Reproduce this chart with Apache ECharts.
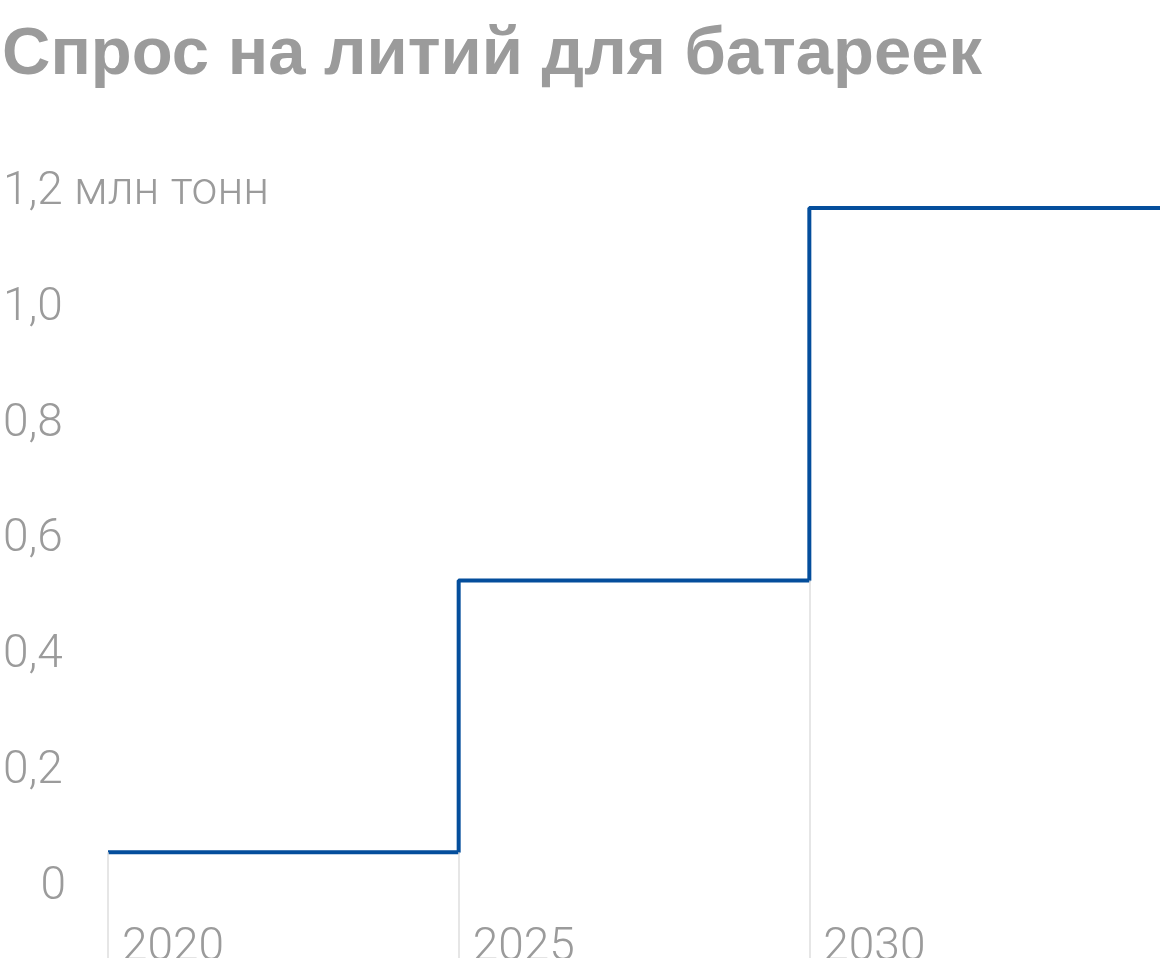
<!DOCTYPE html>
<html>
<head>
<meta charset="utf-8">
<script src="https://cdn.jsdelivr.net/npm/echarts@6/dist/echarts.min.js"></script>
<style>
    html, body { margin: 0; padding: 0; background: #fff; }
    #chart { width: 1160px; height: 958px; }
</style>
</head>
<body>
<div id="chart"></div>
<script>
var years = [2020, 2025, 2030, 2035],
    demand = [0.061, 0.53, 1.173, 1.173], // млн тонн
    yearLabels = [2020, 2025, 2030],
    unit = 'млн тонн';

var textGray = '#9b9b9b',
    lineBlue = '#044e9c',
    gridGray = '#dedede';

// вертикальные линии от ступеньки вниз
var dropLines = yearLabels.map(function(y, i) {
    var level = demand[Math.max(i - 1, 0)];
    return [{ coord: [y, level] }, { coord: [y, -0.2] }];
});

var myChart = echarts.init(document.getElementById('chart'));

var option = {
    animation: false,
    textStyle: { fontFamily: 'Roboto' },
    title: {
        text: 'Спрос на литий для батареек',
        left: -3,
        top: 17,
        textStyle: {
            fontFamily: 'Liberation Sans',
            fontSize: 67,
            fontWeight: 'bold',
            color: textGray
        }
    },
    grid: {
        left: 108,
        right: 0,
        top: 192.4,
        bottom: -45.3,
        outerBoundsMode: 'none',
        containLabel: false
    },
    xAxis: {
        type: 'value',
        min: 2020,
        max: 2035,
        interval: 5,
        position: 'bottom',
        offset: -118.8,
        axisLine: { show: false, onZero: false },
        axisTick: { show: false },
        splitLine: { show: false },
        axisLabel: {
            margin: 41,
            align: 'left',
            padding: [0, 0, 0, 14],
            fontSize: 46,
            fontWeight: 300,
            color: textGray,
            formatter: function(v) {
                return yearLabels.indexOf(v) > -1 ? String(v) : '';
            }
        }
    },
    yAxis: {
        type: 'value',
        min: -0.2,
        max: 1.2,
        interval: 0.2,
        axisLine: { show: false },
        axisTick: { show: false },
        splitLine: { show: false },
        axisLabel: {
            margin: 105,
            align: 'left',
            fontSize: 46,
            fontWeight: 300,
            color: textGray,
            formatter: function(v) {
                if (v < 0) return '';
                var s = v === 0 ? '0' : v.toFixed(1).replace('.', ',');
                if (v === 0) return '{r|0}';
                if (Math.abs(v - 1.2) < 1e-9) return s + ' ' + unit;
                return s;
            },
            rich: {
                r: { width: 63, align: 'right', fontSize: 46, fontWeight: 300, color: textGray }
            }
        }
    },
    series: [{
        type: 'line',
        step: 'end',
        data: years.map(function(y, i) { return [y, demand[i]]; }),
        symbol: 'none',
        lineStyle: { color: lineBlue, width: 4 },
        markLine: {
            silent: true,
            symbol: 'none',
            label: { show: false },
            lineStyle: { color: gridGray, width: 1.5, type: 'solid' },
            data: dropLines
        }
    }]
};
myChart.setOption(option);
</script>
</body>
</html>
